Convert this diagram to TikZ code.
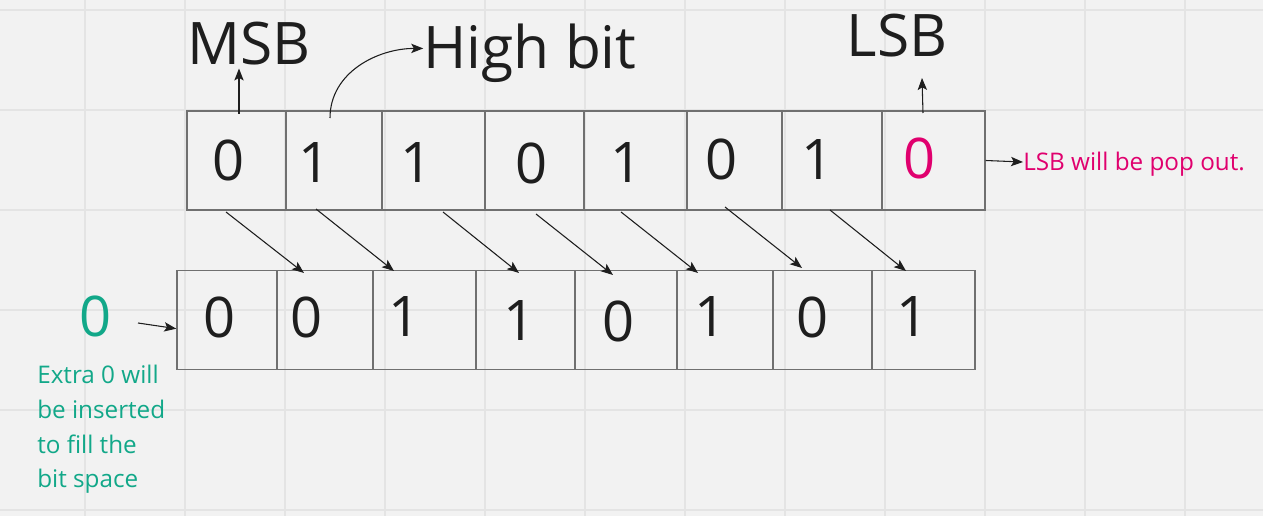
\documentclass[tikz,border=0pt]{standalone}
\usepackage{fontspec}
\setmainfont{Open Sans}
\usetikzlibrary{arrows.meta}
\definecolor{pop}{HTML}{E0006E}
\definecolor{padbit}{HTML}{12A889}
\definecolor{gridline}{HTML}{E4E4E4}
\definecolor{paper}{HTML}{F2F2F2}
\definecolor{cellline}{HTML}{707070}
\definecolor{ink}{HTML}{1E1E1E}

\tikzset{
  cell/.style={draw=cellline, line width=1.1pt, minimum height=74.25pt, inner sep=0pt},
  bit/.style={font=\fontsize{42}{50}\selectfont, text=ink, inner sep=0pt},
  tag/.style={font=\fontsize{44}{52}\selectfont, text=ink, inner sep=0pt, anchor=base},
  note/.style={font=\fontsize{18.2}{26}\selectfont, inner sep=0pt},
  arr/.style={-{Stealth[length=9pt,width=7pt,inset=2pt]}, line width=0.8pt, ink},
}

\begin{document}
\begin{tikzpicture}[x=0.75pt,y=-0.75pt]
\fill[paper] (0,0) rectangle (1263,516);
\useasboundingbox (0,0) rectangle (1263,516);
% grid
\foreach \gx in {85,185,...,1185}
  \draw[gridline, line width=1pt] (\gx,0) -- (\gx,516);
\foreach \gy in {10,110,...,510}
  \draw[gridline, line width=1pt] (0,\gy) -- (1263,\gy);

% register before the shift
\foreach \i/\l/\r in {1/187/286,2/286/382,3/382/485,4/485/584,5/584/687,6/687/782,7/782/882,8/882/985}
  \node[cell, minimum width={(\r-\l)*0.75pt}] (t\i) at ({(\l+\r)/2},160.5) {};
\foreach \i/\x/\y/\v in {1/229/160/0,2/315/163/1,3/417/163/1,4/532/163/0,5/627/163/1,6/722/159/0,7/817/160/1}
  \node[bit] (tb\i) at (\x,\y) {\v};
\node[bit, text=pop] (tb8) at (919,158) {0};

% register after the shift
\foreach \i/\l/\r in {1/177/277,2/277/373,3/373/476,4/476/575,5/575/677,6/677/773,7/773/872,8/872/975}
  \node[cell, minimum width={(\r-\l)*0.75pt}] (b\i) at ({(\l+\r)/2},320) {};
\foreach \i/\x/\y/\v in {1/220/317/0,2/307/317/0,3/405/317/1,4/520/321/1,5/619/321/0,6/710/317/1,7/812/317/0,8/912/317/1}
  \node[bit] (bb\i) at (\x,\y) {\v};

% labels
\node[tag] (msb) at (249,65) {MSB};
\node[tag] (high) at (530,69) {High bit};
\node[tag] (lsb) at (897,57) {LSB};
\node[note, text=pop, anchor=base west] (popnote) at (1023,171) {LSB will be pop out.};
\node[bit, text=padbit] (extra) at (96,316) {0};
\node[note, text=padbit, align=left, anchor=north west] (extranote) at (37,365)
  {Extra 0 will\\be inserted\\to fill the\\bit space};

% pointers
\coordinate (msbfoot) at (239,114);
\draw[arr, shorten >=2pt] (msbfoot) -- (msbfoot |- msb.south);
\coordinate (highfoot) at (330,118);
\draw[arr] (highfoot) to[out=90, in=180] ([yshift=4pt]high.west);
\coordinate (lsbfoot) at (923,113);
\coordinate (lsbtip) at (922,78);
\draw[arr] (lsbfoot) -- (lsbtip);
\draw[arr] (t8.east) -- ([yshift=2pt]popnote.west);
\coordinate (extratail) at (138,323);
\draw[arr] (extratail) -- ([yshift=-6.5pt]b1.west);

% shift arrows
\foreach \i/\sx/\sy/\ex/\ey in {1/226/212/304/273,2/316/209/394/271,3/443/212/519/273,4/536/214/613/275,5/621/212/698/273,6/725/207/802/268,7/830/210/906/271}{
  \coordinate (s\i) at (\sx,\sy);
  \coordinate (e\i) at (\ex,\ey);
  \draw[arr] (s\i) -- (e\i);
}
\end{tikzpicture}
\end{document}
